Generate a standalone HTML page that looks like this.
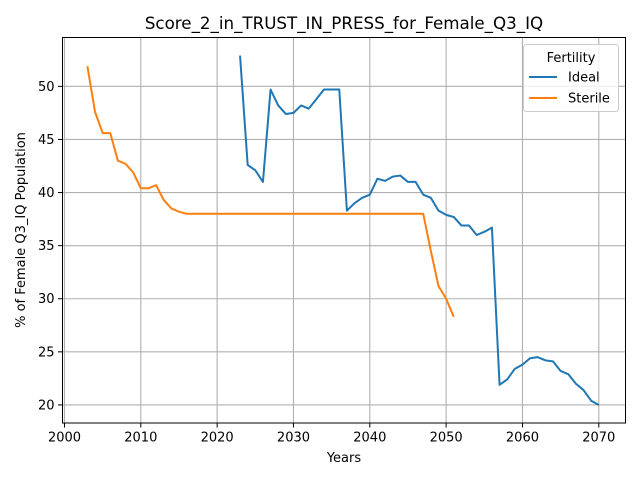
<!DOCTYPE html>
<html><head><meta charset="utf-8"><style>
body{margin:0;background:#fff;}
svg text{font-family:"DejaVu Sans","Liberation Sans",sans-serif;fill:#000;}
</style></head><body>
<svg id="chart" width="640" height="480" xmlns="http://www.w3.org/2000/svg">
<rect width="640" height="480" fill="#fff"/>
<g id="grid"></g>
<g id="series"></g>
<rect x="62.5" y="37.5" width="563" height="385.5" fill="none" stroke="#000" stroke-width="1"/>
<g id="ticks"></g>
<text x="344" y="29" font-size="16.7" text-anchor="middle">Score_2_in_TRUST_IN_PRESS_for_Female_Q3_IQ</text>
<text x="344" y="462" font-size="13" text-anchor="middle">Years</text>
<text transform="translate(25,230) rotate(-90)" font-size="13" text-anchor="middle">% of Female Q3_IQ Population</text>
<g>
<rect x="523.5" y="44.5" width="95" height="67" rx="3" fill="#fff" fill-opacity="0.8" stroke="#ccc"/>
<text x="571" y="62" font-size="13" text-anchor="middle">Fertility</text>
<line x1="529" y1="77" x2="557" y2="77" stroke="#1f77b4" stroke-width="2"/>
<text x="568" y="81.5" font-size="13">Ideal</text>
<line x1="529" y1="98" x2="557" y2="98" stroke="#ff7f0e" stroke-width="2"/>
<text x="568" y="102.5" font-size="13">Sterile</text>
</g>
</svg>
<script>
const idealYears=[2023,2024,2025,2026,2027,2028,2029,2030,2031,2032,2033,2034,2035,2036,2037,2038,2039,2040,2041,2042,2043,2044,2045,2046,2047,2048,2049,2050,2051,2052,2053,2054,2055,2056,2057,2058,2059,2060,2061,2062,2063,2064,2065,2066,2067,2068,2069,2070];
const idealValues=[52.9,42.6,42.1,41.0,49.7,48.2,47.4,47.5,48.2,47.9,48.8,49.7,49.7,49.7,38.3,39.0,39.5,39.8,41.3,41.1,41.5,41.6,41.0,41.0,39.8,39.5,38.3,37.9,37.7,36.9,36.9,36.0,36.3,36.7,21.9,22.4,23.4,23.8,24.4,24.5,24.2,24.1,23.2,22.9,22.0,21.4,20.4,20.0];
const sterileYears=[2003,2004,2005,2006,2007,2008,2009,2010,2011,2012,2013,2014,2015,2016,2020,2030,2040,2047,2048,2049,2050,2051];
const sterileValues=[51.9,47.6,45.6,45.6,43.0,42.7,41.9,40.4,40.4,40.7,39.3,38.5,38.2,38.0,38.0,38.0,38.0,38.0,34.5,31.2,30.0,28.3];
const xTicks=[2000,2010,2020,2030,2040,2050,2060,2070];
const yTicks=[20,25,30,35,40,45,50];
const NS="http://www.w3.org/2000/svg";
const L=62.5,R=625.5,T=37.5,B=423;
const xMin=1999.74,xMax=2073.5,yMin=18.3,yMax=54.6;
function xs(v){return L+(v-xMin)/(xMax-xMin)*(R-L);}
function ys(v){return B-(v-yMin)/(yMax-yMin)*(B-T);}
const grid=document.getElementById('grid'),ticks=document.getElementById('ticks'),series=document.getElementById('series');
function mk(tag,attrs,parent){const e=document.createElementNS(NS,tag);for(const k in attrs)e.setAttribute(k,attrs[k]);parent.appendChild(e);return e;}
xTicks.forEach(v=>{const x=xs(v);
const g=mk('line',{x1:x,x2:x,y1:T,y2:B,stroke:'#b0b0b0','stroke-width':1.1},grid);


mk('line',{x1:x,x2:x,y1:B,y2:B+4.5,stroke:'#000'},ticks);
const t=mk('text',{x:x,y:B+18.5,'font-size':13,'text-anchor':'middle'},ticks);t.textContent=v;

});
yTicks.forEach(v=>{const y=ys(v);
const g=mk('line',{x1:L,x2:R,y1:y,y2:y,stroke:'#b0b0b0','stroke-width':1.1},grid);


mk('line',{x1:L-4.5,x2:L,y1:y,y2:y,stroke:'#000'},ticks);
const t=mk('text',{x:L-8,y:y+4.5,'font-size':13,'text-anchor':'end'},ticks);t.textContent=v;

});
function line(xsArr,vals){return xsArr.map((x,i)=>(i?'L':'M')+xs(x).toFixed(2)+','+ys(vals[i]).toFixed(2)).join(' ');}
const p1=mk('path',{d:line(idealYears,idealValues),fill:'none',stroke:'#1f77b4','stroke-width':2,'stroke-linejoin':'round'},series);


const p2=mk('path',{d:line(sterileYears,sterileValues),fill:'none',stroke:'#ff7f0e','stroke-width':2,'stroke-linejoin':'round'},series);


</script>
</body></html>
